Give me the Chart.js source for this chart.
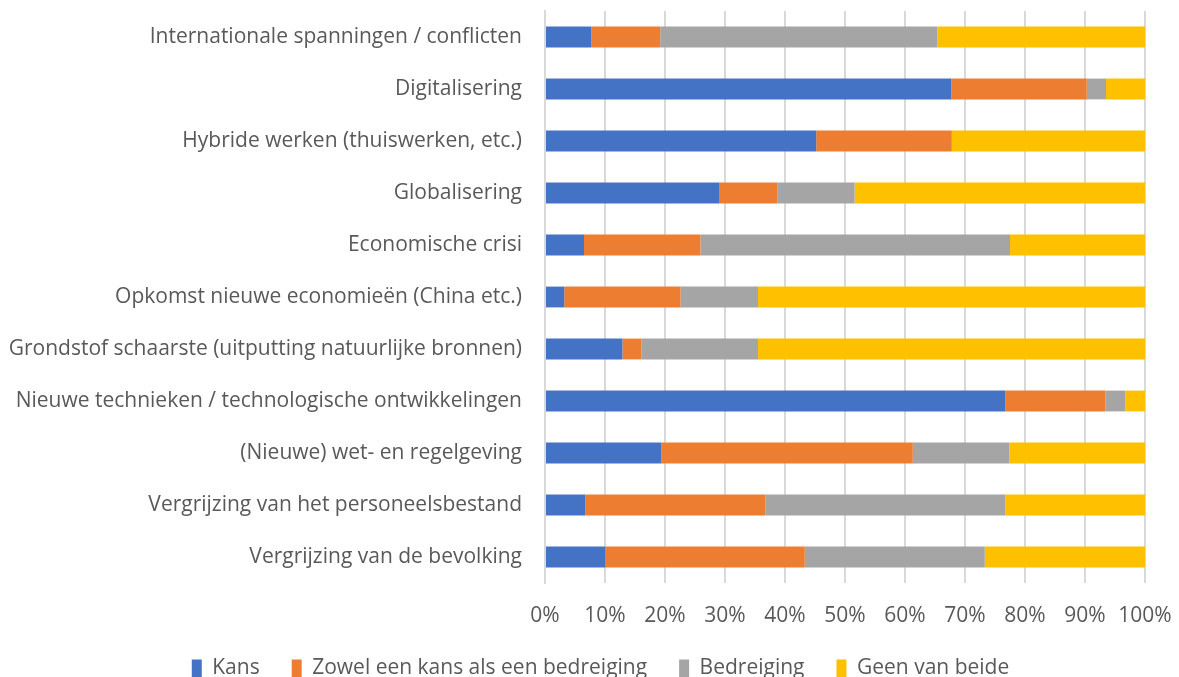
<!DOCTYPE html>
<html>
<head>
<meta charset="utf-8">
<script src="https://cdn.jsdelivr.net/npm/chart.js@4"></script>
<style>
  html, body { margin: 0; padding: 0; background: #fff; }
  #wrap { width: 1179px; height: 677px; }
</style>
</head>
<body>
<div id="wrap"><canvas id="myChart" width="1179" height="677"></canvas></div>
<script>
const categories = [
  "Internationale spanningen / conflicten",
  "Digitalisering",
  "Hybride werken (thuiswerken, etc.)",
  "Globalisering",
  "Economische crisi",
  "Opkomst nieuwe economieën (China etc.)",
  "Grondstof schaarste (uitputting natuurlijke bronnen)",
  "Nieuwe technieken / technologische ontwikkelingen",
  "(Nieuwe) wet- en regelgeving",
  "Vergrijzing van het personeelsbestand",
  "Vergrijzing van de bevolking",
];

// percentages per row
const kans = [7.7, 67.7, 45.2, 29.0, 6.5, 3.2, 12.9, 76.7, 19.4, 6.7, 10.0];
const zowel = [11.5, 22.6, 22.6, 9.7, 19.4, 19.4, 3.2, 16.7, 41.9, 30.0, 33.3];
const bedreiging = [46.2, 3.2, 0, 12.9, 51.6, 12.9, 19.4, 3.3, 16.1, 40.0, 30.0];
const geen = [34.6, 6.5, 32.3, 48.4, 22.6, 64.5, 64.5, 3.3, 22.6, 23.3, 26.7];

const seriesNames = ["Kans", "Zowel een kans als een bedreiging", "Bedreiging", "Geen van beide"];
const xTicks = [0, 10, 20, 30, 40, 50, 60, 70, 80, 90, 100];

const fontFamily = "'Open Sans', sans-serif";
const textColor = "#595959";

const ctx = document.getElementById("myChart");

new Chart(ctx, {
  type: "bar",
  data: {
    labels: categories,
    datasets: [
      { label: seriesNames[0], data: kans, backgroundColor: "#4472C4" },
      { label: seriesNames[1], data: zowel, backgroundColor: "#ED7D31" },
      { label: seriesNames[2], data: bedreiging, backgroundColor: "#A5A5A5" },
      { label: seriesNames[3], data: geen, backgroundColor: "#FFC000" },
    ],
  },
  options: {
    indexAxis: "y",
    responsive: false,
    animation: false,
    datasets: {
      bar: { barPercentage: 0.4, categoryPercentage: 1 },
    },
    layout: {
      padding: { top: 11, right: 0, left: 22, bottom: 0 },
    },
    plugins: {
      tooltip: { enabled: false },
      legend: {
        position: "bottom",
        maxHeight: 51,
        labels: {
          boxWidth: 10,
          boxHeight: 18,
          padding: 32,
          color: textColor,
          font: { family: fontFamily, size: 21 },
        },
      },
    },
    scales: {
      x: {
        stacked: true,
        min: 0,
        max: 100,
        afterBuildTicks: (axis) => {
          axis.ticks = xTicks.map((v) => ({ value: v }));
        },
        afterFit: (axis) => {
          axis.height = 43;
          axis.paddingLeft = 0;
          axis.paddingRight = 34;
        },
        grid: {
          color: "#D9D9D9",
          lineWidth: 2,
          drawTicks: false,
        },
        border: { display: false },
        ticks: {
          padding: 20,
          color: textColor,
          maxRotation: 0,
          font: { family: fontFamily, size: 21 },
          callback: (v) => v + "%",
        },
      },
      y: {
        stacked: true,
        afterFit: (axis) => {
          axis.width = 523;
          axis.paddingTop = 0;
          axis.paddingBottom = 0;
          // long labels reach past the left padding, don't clip them
          axis._computeLabelArea = () => undefined;
        },
        grid: { display: false, drawTicks: false },
        border: { display: true, color: "#D9D9D9", width: 2 },
        ticks: {
          autoSkip: false,
          padding: 23,
          color: textColor,
          font: { family: fontFamily, size: 21 },
        },
      },
    },
  },
});
</script>
</body>
</html>
